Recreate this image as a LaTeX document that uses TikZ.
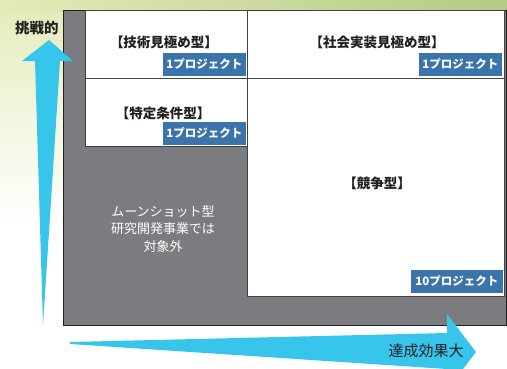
\documentclass[tikz,border=0pt]{standalone}
\usepackage{fontspec}
\setmainfont{Noto Sans CJK JP}
\definecolor{bggray}{RGB}{123,124,128}
\definecolor{arrowcyan}{RGB}{56,197,236}
\definecolor{tagblue}{RGB}{58,116,170}
\definecolor{inkdark}{RGB}{35,31,32}
\definecolor{bgleft}{RGB}{228,234,185}
\definecolor{bgright}{RGB}{180,202,132}
\tikzset{
  quad/.style={draw=inkdark!85, line width=0.9pt, fill=white, anchor=north west, inner sep=0pt},
  tagbox/.style={fill=tagblue, text=white, font=\fontsize{11.5}{13}\selectfont\bfseries, inner sep=0pt, minimum height=23pt, anchor=south east},
  title/.style={text=inkdark, font=\fontsize{13.5}{16}\selectfont\bfseries, inner sep=0pt},
  axislabel/.style={text=inkdark, font=\fontsize{14.5}{17}\selectfont, inner sep=0pt},
  flat/.style={fill=arrowcyan, draw=none}
}
\begin{document}
\begin{tikzpicture}[x=1pt, y=-1pt]
\useasboundingbox (0,0) rectangle (507,368);
% background gradient
\fill[white] (0,0) rectangle (507,368);
\shade[top color=bgleft, bottom color=white, middle color=bgleft!45] (0,0) rectangle (64,230);
\shade[left color=bgleft, right color=bgright] (0,0) rectangle (507,11);
\shade[top color=bgright, bottom color=white] (505,0) rectangle (507,330);
% gray field
\node[draw=inkdark, line width=1pt, fill=bggray, anchor=north west, minimum width=443pt, minimum height=315pt, inner sep=0pt] (field) at (63,10) {};
% quadrants
\node[quad, minimum width=162pt, minimum height=68pt] (tech) at (85,10) {};
\node[quad, minimum width=162pt, minimum height=68pt] (spec) at (85,78) {};
\node[quad, minimum width=257pt, minimum height=68pt] (soc) at (247,10) {};
\node[quad, minimum width=257pt, minimum height=218pt] (comp) at (247,78) {};
% titles
\node[title] (techT) at (164,42) {【技術見極め型】};
\node[title] (specT) at (163,113) {【特定条件型】};
\node[title] (socT) at (377,42) {【社会実装見極め型】};
\node[title] (compT) at (377,183) {【競争型】};
% tags
\node[tagbox, minimum width=83pt] (tagA) at (246,76) {1プロジェクト};
\node[tagbox, minimum width=83pt] (tagB) at (246,145) {1プロジェクト};
\node[tagbox, minimum width=83pt] (tagC) at (502,76) {1プロジェクト};
\node[tagbox, minimum width=92pt] (tagD) at (503,293) {10プロジェクト};
% gray text
\node[text=white, align=center, font=\fontsize{13}{17.5}\selectfont, inner sep=0pt] (moon) at (163,229) {ムーンショット型\\研究開発事業では\\対象外};
% vertical arrow
\fill[flat] (43,325) -- (35,61) -- (22,61) -- (49,40) -- (73,61) -- (60,61) -- cycle;
\node[axislabel, font=\fontsize{14.5}{17}\selectfont\bfseries] (chal) at (37,28) {挑戦的};
% horizontal arrow
\fill[flat] (70,342) -- (447,333) -- (447,314) -- (476,352) -- (447,390) -- (447,369) -- (70,344) -- cycle;
\node[axislabel, font=\fontsize{15}{17}\selectfont] (eff) at (426,351) {達成効果大};
\end{tikzpicture}
\end{document}
